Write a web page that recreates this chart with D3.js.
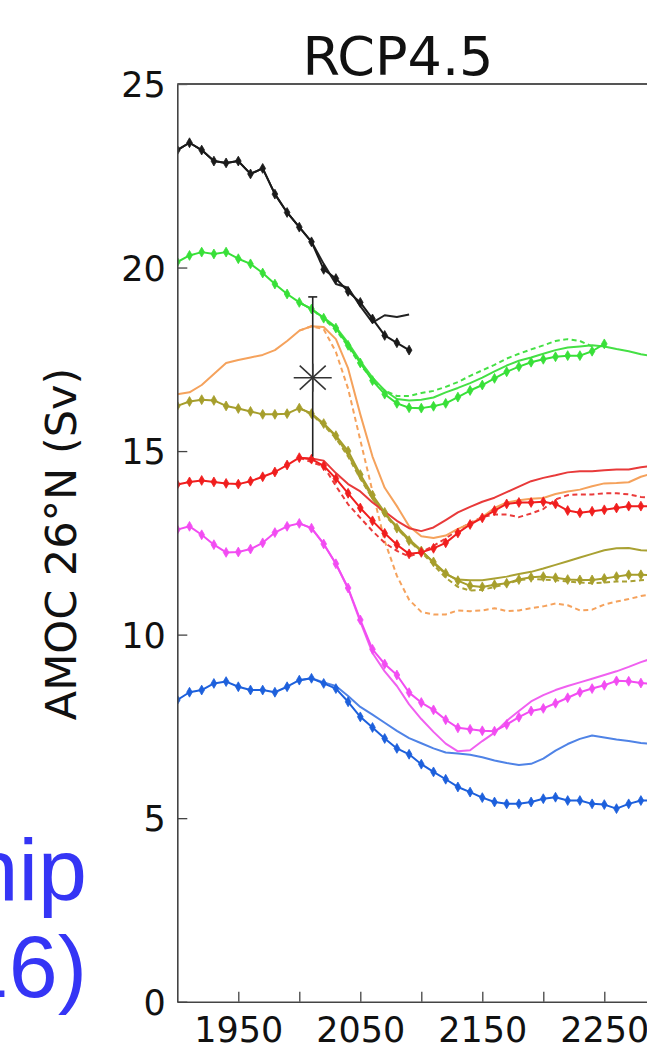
<!DOCTYPE html>
<html><head><meta charset="utf-8">
<script src="https://cdn.jsdelivr.net/npm/d3@7"></script>
<style>body{margin:0;background:#fff;overflow:hidden}</style>
</head><body>
<svg id="c" width="647" height="1046"></svg>
<script>
const N = null;
const years = [1900,1910,1920,1930,1940,1950,1960,1970,1980,1990,
               2000,2010,2020,2030,2040,2050,2060,2070,2080,2090,
               2100,2110,2120,2130,2140,2150,2160,2170,2180,2190,
               2200,2210,2220,2230,2240,2250,2260,2270,2280,2290];

const blackA = [23.2,23.4,23.2,22.9,22.85,22.9,22.55,22.7,22.0,21.5,
  21.1,20.7,19.95,19.7,19.35,19.05,18.6,18.15,17.95,17.75,
  N,N,N,N,N,N,N,N,N,N, N,N,N,N,N,N,N,N,N,N];
const blackB = [23.2,23.4,23.2,22.9,22.85,22.9,22.55,22.7,22.0,21.5,
  21.1,20.7,20.1,19.55,19.45,18.95,18.5,18.7,18.65,18.72,
  N,N,N,N,N,N,N,N,N,N, N,N,N,N,N,N,N,N,N,N];

const greenMk = [20.15,20.33,20.42,20.37,20.42,20.24,20.1,19.85,19.55,19.28,
  19.05,18.87,18.62,18.35,17.88,17.4,16.92,16.55,16.3,16.18,
  16.17,16.22,16.3,16.47,16.65,16.8,16.98,17.16,17.3,17.42,
  17.5,17.57,17.6,17.6,17.72,17.92,N,N,N,N];
const greenSolid = [N,N,N,N,N,N,N,N,N,N,
  19.05,18.87,18.64,18.38,17.95,17.45,17.0,16.65,16.42,16.38,
  16.4,16.46,16.6,16.72,16.85,17.0,17.17,17.33,17.46,17.55,
  17.65,17.75,17.82,17.85,17.88,17.85,17.78,17.72,17.64,17.58];
const greenDash = [N,N,N,N,N,N,N,N,N,N,
  19.05,18.87,18.6,18.3,17.85,17.35,16.95,16.65,16.5,16.5,
  16.58,16.64,16.75,16.88,17.05,17.2,17.35,17.52,17.65,17.77,
  17.88,18.0,18.05,18.0,17.85,N,N,N,N,N];

const orangeSolid = [16.55,16.6,16.8,17.1,17.4,17.48,17.55,17.62,17.75,18.0,
  18.28,18.4,18.38,18.05,17.25,16.0,14.85,14.0,13.5,12.95,
  12.68,12.63,12.7,12.88,13.02,13.2,13.45,13.6,13.66,13.7,
  13.72,13.83,13.9,13.95,14.04,14.12,14.13,14.15,14.3,14.4];
const orangeDash = [N,N,N,N,N,N,N,N,N,N,
  18.28,18.4,18.32,17.7,16.7,15.3,13.9,12.55,11.6,10.95,
  10.62,10.55,10.55,10.66,10.64,10.66,10.72,10.64,10.66,10.72,
  10.77,10.85,10.8,10.66,10.68,10.82,10.9,10.97,11.05,11.1];

const oliveMk = [16.23,16.35,16.4,16.38,16.23,16.16,16.08,16.0,16.0,16.02,
  16.17,16.02,15.75,15.42,15.0,14.36,13.8,13.33,12.9,12.56,
  12.28,11.98,11.67,11.47,11.33,11.3,11.36,11.4,11.5,11.56,
  11.58,11.55,11.5,11.49,11.49,11.53,11.58,11.63,11.63,11.62];
const oliveSolid = [N,N,N,N,N,N,N,N,N,N,
  16.17,16.02,15.72,15.4,14.9,14.3,13.72,13.28,12.95,12.6,
  12.3,11.95,11.65,11.5,11.48,11.48,11.53,11.58,11.65,11.71,
  11.8,11.9,12.0,12.1,12.2,12.3,12.35,12.36,12.3,12.28];
const oliveDash = [N,N,N,N,N,N,N,N,N,N,
  16.17,16.0,15.7,15.35,14.85,14.25,13.7,13.25,12.9,12.55,
  12.25,11.9,11.55,11.3,11.2,11.22,11.3,11.38,11.48,11.52,
  11.5,11.48,11.45,11.42,11.4,11.42,11.45,11.45,11.48,11.5];

const redMk = [14.09,14.16,14.2,14.16,14.12,14.1,14.18,14.3,14.43,14.62,
  14.82,14.78,14.6,14.25,13.85,13.45,13.1,12.76,12.45,12.2,
  12.24,12.35,12.5,12.77,13.0,13.18,13.38,13.56,13.6,13.6,
  13.62,13.56,13.38,13.32,13.36,13.4,13.45,13.5,13.5,13.5];
const redSolid = [N,N,N,N,N,N,N,N,N,N,
  14.82,14.8,14.74,14.4,14.1,13.9,13.6,13.35,13.1,12.9,
  12.82,12.92,13.12,13.33,13.48,13.62,13.73,13.88,14.03,14.18,
  14.27,14.34,14.42,14.45,14.45,14.48,14.5,14.5,14.56,14.6];
const redDash = [N,N,N,N,N,N,N,N,N,N,
  14.82,14.7,14.58,14.05,13.55,13.18,12.82,12.5,12.28,12.13,
  12.25,12.42,12.62,12.85,13.05,13.2,13.27,13.27,13.2,13.3,
  13.42,13.68,13.8,13.82,13.82,13.85,13.85,13.82,13.75,13.72];

const magentaMk = [12.86,12.95,12.72,12.45,12.24,12.25,12.33,12.5,12.78,12.95,
  13.03,12.9,12.47,11.93,11.27,10.4,9.6,9.2,8.9,8.42,
  8.15,7.95,7.68,7.46,7.42,7.38,7.37,7.55,7.75,7.92,
  7.99,8.13,8.28,8.43,8.53,8.62,8.74,8.73,8.68,8.66];
const magentaSolid = [N,N,N,N,N,N,N,N,N,N,
  13.03,12.9,12.47,11.93,11.25,10.35,9.5,9.0,8.6,8.1,
  7.7,7.35,7.03,6.82,6.85,7.1,7.33,7.65,7.92,8.18,
  8.35,8.49,8.6,8.7,8.8,8.9,9.0,9.12,9.25,9.36];

const blueMk = [8.22,8.43,8.49,8.67,8.72,8.58,8.49,8.49,8.43,8.58,
  8.76,8.81,8.67,8.53,8.17,7.76,7.47,7.17,6.9,6.74,
  6.47,6.26,6.06,5.85,5.71,5.56,5.44,5.39,5.39,5.44,
  5.53,5.57,5.48,5.48,5.39,5.37,5.26,5.39,5.48,5.48];
const blueSolid = [N,N,N,N,N,N,N,N,N,N,
  8.76,8.81,8.7,8.6,8.33,8.03,7.82,7.6,7.38,7.18,
  7.04,6.9,6.79,6.76,6.73,6.66,6.57,6.5,6.45,6.48,
  6.62,6.84,7.02,7.16,7.25,7.2,7.14,7.1,7.05,7.02];

const obsYear = 2011, obsValue = 17.0, obsLow = 14.85, obsHigh = 19.2;

const xTicks = [1950,2000,2050,2100,2150,2200,2250,2300];
const xTickLabels = [1950,2050,2150,2250];
const yTicks = [0,5,10,15,20,25];

const title = "RCP4.5";
const yLabel = "AMOC 26°N (Sv)";
const sideText = ["Relationship", "(2016)"];

// series styling
const series = [
  {d: orangeDash,  c: "#f5a25c", dash: "5,3.5"},
  {d: oliveDash,   c: "#a9a133", dash: "5,3.5"},
  {d: redDash,     c: "#ea3a3a", dash: "5,3.5"},
  {d: greenDash,   c: "#45e045", dash: "5,3.5"},
  {d: orangeSolid, c: "#f5a25c"},
  {d: oliveSolid,  c: "#a9a133"},
  {d: redSolid,    c: "#e83a3a"},
  {d: greenSolid,  c: "#45e045"},
  {d: magentaSolid,c: "#f060f0"},
  {d: blueSolid,   c: "#4f83e6"},
  {d: greenMk,     c: "#38e038", mk: true},
  {d: oliveMk,     c: "#a69e2c", mk: true},
  {d: redMk,       c: "#f01e1e", mk: true},
  {d: magentaMk,   c: "#f24cf2", mk: true},
  {d: blueMk,      c: "#1d60dc", mk: true},
  {d: blackB,      c: "#222"},
  {d: blackA,      c: "#1a1a1a", mk: true}
];

const svg = d3.select("#c");
const x = d3.scaleLinear().domain([1900, 2300]).range([177.3, 665.3]);
const y = d3.scaleLinear().domain([0, 25]).range([1001.7, 84]);

svg.append("defs").append("clipPath").attr("id", "pc")
  .append("rect").attr("x", x(1900)).attr("y", y(25))
  .attr("width", x(2300) - x(1900)).attr("height", y(0) - y(25));

const g = svg.append("g").attr("clip-path", "url(#pc)");
const line = d3.line()
  .defined(v => v != null)
  .x((v, i) => x(years[i]))
  .y(v => y(v));

series.forEach(s => {
  g.append("path").attr("d", line(s.d))
    .attr("fill", "none").attr("stroke", s.c)
    .attr("stroke-width", 2)
    .attr("stroke-linejoin", "round")
    .attr("stroke-dasharray", s.dash || null);
  if (s.mk) {
    const sym = d3.symbol().type(d3.symbolDiamond).size(28);
    g.selectAll(null)
      .data(s.d.map((v, i) => [years[i], v]).filter(p => p[1] != null))
      .enter().append("path")
      .attr("d", sym)
      .attr("transform", p => `translate(${x(p[0])},${y(p[1])})`)
      .attr("fill", s.c).attr("stroke", s.c).attr("stroke-width", 0.8);
  }
});

// observation with error bar and asterisk
const ox = x(obsYear), oy = y(obsValue);
const og = svg.append("g").attr("stroke", "#222").attr("stroke-width", 1.6).attr("fill", "none");
og.append("line").attr("x1", ox).attr("x2", ox).attr("y1", y(obsHigh)).attr("y2", y(obsLow));
og.append("line").attr("x1", ox - 4.5).attr("x2", ox + 4.5).attr("y1", y(obsHigh)).attr("y2", y(obsHigh));
const ag = svg.append("g").attr("stroke", "#333").attr("stroke-width", 1.5);
ag.append("line").attr("x1", ox - 19).attr("x2", ox + 19).attr("y1", oy).attr("y2", oy);
ag.append("line").attr("x1", ox - 13).attr("x2", ox + 13).attr("y1", oy - 12).attr("y2", oy + 12);
ag.append("line").attr("x1", ox - 13).attr("x2", ox + 13).attr("y1", oy + 12).attr("y2", oy - 12);
ag.append("line").attr("x1", ox).attr("x2", ox).attr("y1", oy - 14).attr("y2", oy + 14);

// axes
const axisColor = "#444";
const xAxis = d3.axisBottom(x).tickValues(xTicks)
  .tickSize(-10).tickSizeOuter(0).tickPadding(15)
  .tickFormat(d => xTickLabels.includes(d) ? String(d) : "");
const xg = svg.append("g").attr("transform", `translate(0,${y(0)})`).call(xAxis);
const yAxis = d3.axisLeft(y).tickValues(yTicks)
  .tickSize(-10).tickSizeOuter(0).tickPadding(11.5)
  .tickFormat(d => String(d));
const yg = svg.append("g").attr("transform", `translate(${x(1900)},0)`).call(yAxis);
[xg, yg].forEach(a => {
  a.select(".domain").attr("stroke", axisColor).attr("stroke-width", 1.6);
  a.selectAll(".tick line").attr("stroke", axisColor).attr("stroke-width", 1.3);
  a.selectAll(".tick text").attr("fill", "#111")
    .style("font-family", "DejaVu Sans").style("font-size", "35px");
});
yg.selectAll(".tick text").attr("dy", "0.36em");
// top border
svg.append("line").attr("x1", x(1900)).attr("x2", x(2300))
  .attr("y1", y(25)).attr("y2", y(25))
  .attr("stroke", "#555").attr("stroke-width", 1.8);

// title
svg.append("text").attr("x", 398).attr("y", 75).attr("text-anchor", "middle")
  .style("font-family", "DejaVu Sans").style("font-size", "54px").attr("fill", "#111")
  .text(title);

// y label
svg.append("text").attr("transform", "translate(76,544) rotate(-90)")
  .attr("text-anchor", "middle")
  .style("font-family", "DejaVu Sans").style("font-size", "43px").attr("fill", "#111")
  .text(yLabel);

// side overlay text
svg.selectAll(".side").data(sideText).enter().append("text")
  .attr("x", 87).attr("y", (d, i) => [900, 997][i])
  .attr("text-anchor", "end")
  .style("font-family", "Liberation Sans").style("font-size", "88px")
  .attr("fill", "#3535f5").text(d => d);
</script>
</body></html>
